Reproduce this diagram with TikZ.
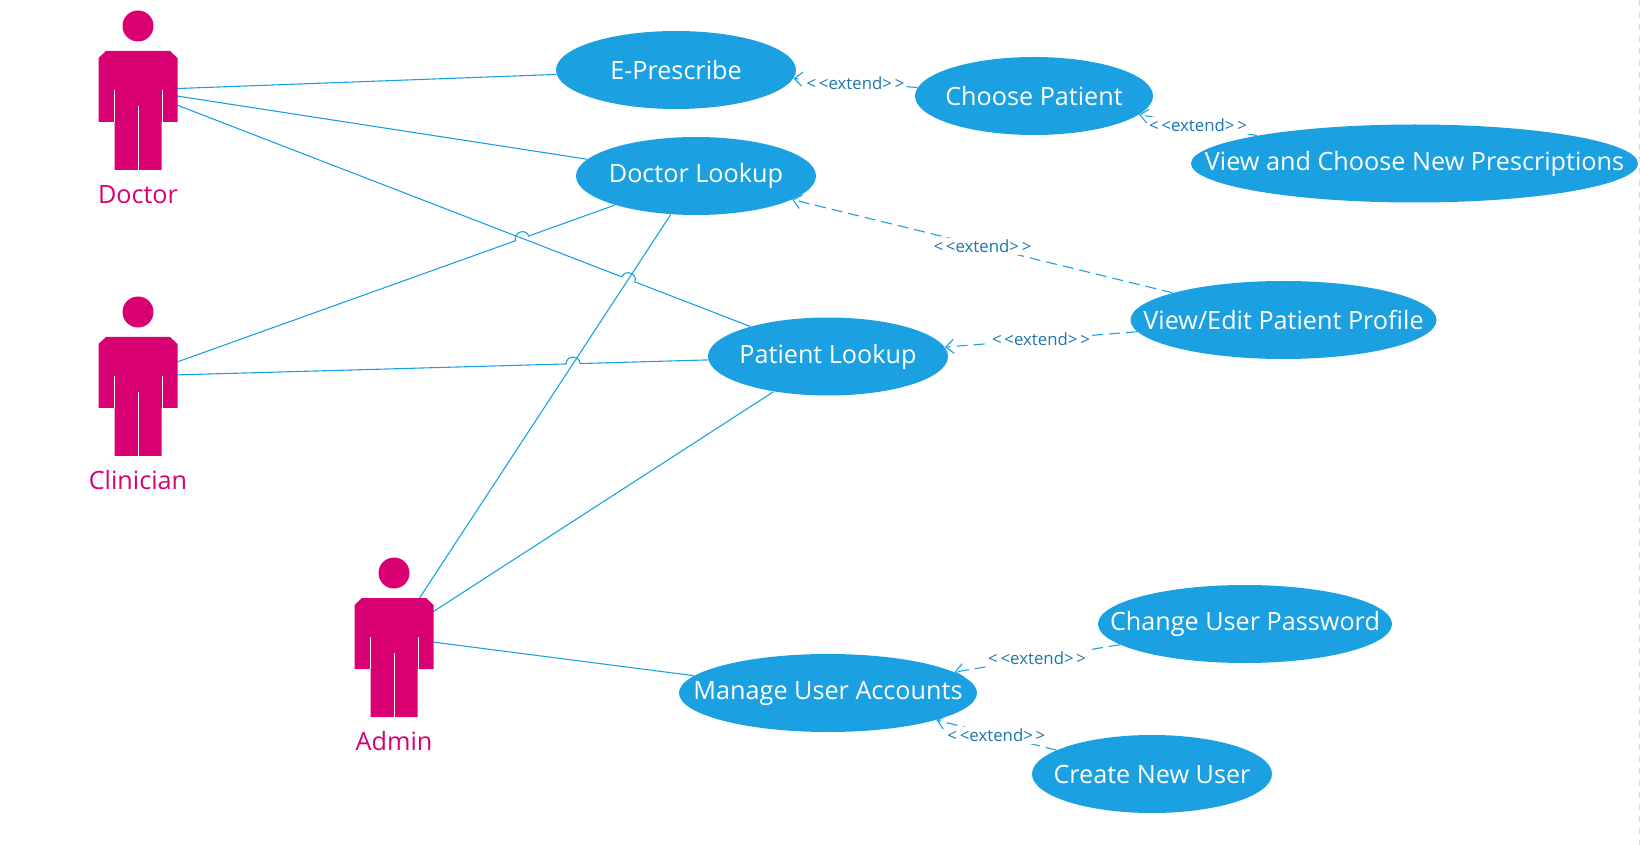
\documentclass[tikz,border=0pt]{standalone}
\usepackage{fontspec}
\setmainfont{Open Sans}
\usetikzlibrary{arrows.meta,calc,backgrounds,shapes.geometric}

\definecolor{ucblue}{HTML}{1BA1E2}
\definecolor{ucpink}{HTML}{D80073}
\definecolor{ucdark}{HTML}{1C75AB}

\tikzset{
  usecase/.style={ellipse, fill=ucblue, text=white, inner sep=0pt, minimum height=39pt, font=\fontsize{12.6}{15}\selectfont},
  assoc/.style={ucblue, line width=0.55pt},
  extends/.style={->, >={Straight Barb[length=4pt,width=7pt]}, ucblue, line width=0.55pt, dash pattern=on 5.5pt off 3pt},
  extlabel/.style={midway, fill=white, inner sep=1pt, text=ucdark, font=\fontsize{8.4}{10}\selectfont},
  actor/.pic={
    \coordinate (-c) at (0,0);
    \fill[ucpink] (0,-64) circle (15.5);
    \fill[ucpink] (-32,-39) -- (32,-39) -- (39.5,-32) -- (39.5,32) -- (23.5,32) -- (23.5,80) -- (-23.5,80) -- (-23.5,32) -- (-39.5,32) -- (-39.5,-32) -- cycle;
    \draw[white, line width=0.4pt] (-24,0) -- (-24,32) (24,0) -- (24,32) (0,16) -- (0,80);
    \node[text=ucpink, font=\fontsize{12.6}{15}\selectfont] (-label) at (0,104.5) {#1};
  }
}
\newcommand{\jumpover}[3]{\draw[assoc] (#1) -- ($(#2)!3.5pt!(#1)$) to[bend left=90, looseness=1.6] ($(#2)!3.5pt!(#3)$) -- (#3);}
\newcommand{\uctext}[1]{\makebox[0pt]{#1}}

\begin{document}
\begin{tikzpicture}[x=0.5pt, y=-0.5pt]
  \useasboundingbox (0,0) rectangle (1640,845);

  \node[usecase, minimum width=120pt] (prescribe) at (676,70) {\uctext{E-Prescribe}};
  \node[usecase, minimum width=119pt] (choose) at (1034,96) {\uctext{Choose Patient}};
  \node[usecase, minimum width=223.5pt] (newpresc) at (1414.5,163.5) {\uctext{View and Choose New Prescriptions}};
  \node[usecase, minimum width=120pt] (dlookup) at (696,176) {\uctext{Doctor Lookup}};
  \node[usecase, minimum width=153pt] (profile) at (1283.5,320) {\uctext{View/Edit Patient Profile}};
  \node[usecase, minimum width=120pt] (plookup) at (828,356.5) {\uctext{Patient Lookup}};
  \node[usecase, minimum width=147pt] (password) at (1245,624) {\uctext{Change User Password}};
  \node[usecase, minimum width=149pt] (accounts) at (828,693) {\uctext{Manage User Accounts}};
  \node[usecase, minimum width=120pt] (newuser) at (1152,774) {\uctext{Create New User}};

  \pic (doctor) at (138,90) {actor=Doctor};
  \pic (clinician) at (138,376) {actor=Clinician};
  \pic (admin) at (394,637) {actor=Admin};

  \coordinate (jumpa) at (intersection of clinician-c--dlookup.center and doctor-c--plookup.center);
  \coordinate (jumpb) at (intersection of doctor-c--plookup.center and admin-c--dlookup.center);
  \coordinate (jumpc) at (intersection of clinician-c--plookup.center and admin-c--dlookup.center);

  \begin{scope}[on background layer]
    \draw[assoc] (doctor-c) -- (prescribe);
    \draw[assoc] (doctor-c) -- (dlookup);
    \jumpover{doctor-c}{jumpb}{plookup}
    \jumpover{clinician-c}{jumpa}{dlookup}
    \jumpover{clinician-c}{jumpc}{plookup}
    \draw[assoc] (admin-c) -- (dlookup);
    \draw[assoc] (admin-c) -- (plookup);
    \draw[assoc] (admin-c) -- (accounts);
  \end{scope}

  \draw[extends] (choose) -- (prescribe) node[extlabel] {<\,<extend>\,>};
  \draw[extends] (newpresc) -- (choose) node[extlabel] {<\,<extend>\,>};
  \draw[extends] (profile) -- (dlookup) node[extlabel] {<\,<extend>\,>};
  \draw[extends] (profile) -- (plookup) node[extlabel] {<\,<extend>\,>};
  \draw[extends] (password) -- (accounts) node[extlabel] {<\,<extend>\,>};
  \draw[extends] (newuser) -- (accounts) node[extlabel] {<\,<extend>\,>};

  \draw[black!15, dashed, line width=0.4pt] (1639,0) -- (1639,845);
\end{tikzpicture}
\end{document}
